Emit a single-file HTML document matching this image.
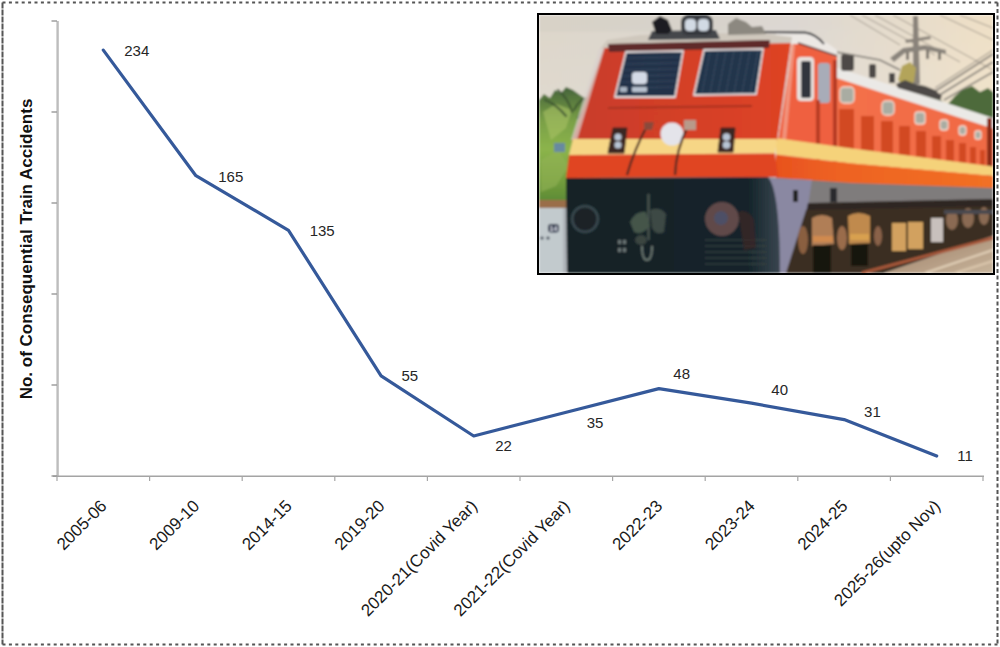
<!DOCTYPE html>
<html><head><meta charset="utf-8">
<style>
html,body{margin:0;padding:0;background:#fff;}
body{width:1000px;height:647px;overflow:hidden;position:relative;}
svg{position:absolute;left:0;top:0;}
text{font-family:"Liberation Sans",sans-serif;fill:#1a1a1a;}
.dl{font-size:15px;fill:#262626;}
.xl{font-size:17px;fill:#1a1a1a;}
.yt{font-size:17px;font-weight:bold;fill:#111;}
</style></head><body>
<svg width="1000" height="647" viewBox="0 0 1000 647">
<rect x="0" y="0" width="1000" height="647" fill="#fff"/>
<line x1="57.6" y1="21" x2="57.6" y2="476" stroke="#bdbdbd" stroke-width="2.4"/>
<line x1="53" y1="476.2" x2="984.0" y2="476.2" stroke="#a4a4a4" stroke-width="1.6"/>
<line x1="51.5" y1="476" x2="57" y2="476" stroke="#999" stroke-width="1.4"/>
<line x1="51.5" y1="385" x2="57" y2="385" stroke="#999" stroke-width="1.4"/>
<line x1="51.5" y1="294" x2="57" y2="294" stroke="#999" stroke-width="1.4"/>
<line x1="51.5" y1="203" x2="57" y2="203" stroke="#999" stroke-width="1.4"/>
<line x1="51.5" y1="112" x2="57" y2="112" stroke="#999" stroke-width="1.4"/>
<line x1="51.5" y1="21" x2="57" y2="21" stroke="#999" stroke-width="1.4"/>
<line x1="57.0" y1="476" x2="57.0" y2="481" stroke="#a6a6a6" stroke-width="1.2"/>
<line x1="149.6" y1="476" x2="149.6" y2="481" stroke="#a6a6a6" stroke-width="1.2"/>
<line x1="242.2" y1="476" x2="242.2" y2="481" stroke="#a6a6a6" stroke-width="1.2"/>
<line x1="334.8" y1="476" x2="334.8" y2="481" stroke="#a6a6a6" stroke-width="1.2"/>
<line x1="427.4" y1="476" x2="427.4" y2="481" stroke="#a6a6a6" stroke-width="1.2"/>
<line x1="520.0" y1="476" x2="520.0" y2="481" stroke="#a6a6a6" stroke-width="1.2"/>
<line x1="612.6" y1="476" x2="612.6" y2="481" stroke="#a6a6a6" stroke-width="1.2"/>
<line x1="705.2" y1="476" x2="705.2" y2="481" stroke="#a6a6a6" stroke-width="1.2"/>
<line x1="797.8" y1="476" x2="797.8" y2="481" stroke="#a6a6a6" stroke-width="1.2"/>
<line x1="890.4" y1="476" x2="890.4" y2="481" stroke="#a6a6a6" stroke-width="1.2"/>
<line x1="983.0" y1="476" x2="983.0" y2="481" stroke="#a6a6a6" stroke-width="1.2"/>
<polyline fill="none" stroke="#35599a" stroke-width="3.2" stroke-linejoin="round" stroke-linecap="round" points="103.3,50.1 195.9,175.7 288.5,230.3 381.1,375.9 473.7,436.0 566.3,412.3 658.9,388.6 751.5,403.2 844.1,419.6 936.7,456.0"/>
<text x="136.8" y="56.0" text-anchor="middle" class="dl">234</text>
<text x="230.8" y="181.8" text-anchor="middle" class="dl">165</text>
<text x="322.2" y="236.3" text-anchor="middle" class="dl">135</text>
<text x="409.8" y="381.2" text-anchor="middle" class="dl">55</text>
<text x="503.6" y="451.0" text-anchor="middle" class="dl">22</text>
<text x="595.0" y="427.6" text-anchor="middle" class="dl">35</text>
<text x="681.7" y="378.9" text-anchor="middle" class="dl">48</text>
<text x="779.7" y="395.3" text-anchor="middle" class="dl">40</text>
<text x="872.4" y="417.2" text-anchor="middle" class="dl">31</text>
<text x="965.0" y="460.8" text-anchor="middle" class="dl">11</text>
<text class="xl" text-anchor="end" transform="translate(107.8,507) rotate(-45)">2005-06</text>
<text class="xl" text-anchor="end" transform="translate(200.4,507) rotate(-45)">2009-10</text>
<text class="xl" text-anchor="end" transform="translate(293.0,507) rotate(-45)">2014-15</text>
<text class="xl" text-anchor="end" transform="translate(385.6,507) rotate(-45)">2019-20</text>
<text class="xl" text-anchor="end" transform="translate(478.2,507) rotate(-45)">2020-21(Covid Year)</text>
<text class="xl" text-anchor="end" transform="translate(570.8,507) rotate(-45)">2021-22(Covid Year)</text>
<text class="xl" text-anchor="end" transform="translate(663.4,507) rotate(-45)">2022-23</text>
<text class="xl" text-anchor="end" transform="translate(756.0,507) rotate(-45)">2023-24</text>
<text class="xl" text-anchor="end" transform="translate(848.6,507) rotate(-45)">2024-25</text>
<text class="xl" text-anchor="end" transform="translate(941.2,507) rotate(-45)">2025-26(upto Nov)</text>
<text class="yt" text-anchor="middle" transform="translate(32,249) rotate(-90)">No. of Consequential Train Accidents</text>
<defs>
<filter id="soft" x="0" y="0" width="1" height="1"><feGaussianBlur stdDeviation="0.85"/></filter>
<clipPath id="pc"><rect x="539" y="15" width="454" height="258"/></clipPath>
<linearGradient id="sky" x1="0" y1="0" x2="1" y2="0">
<stop offset="0" stop-color="#ddd6ca"/><stop offset="0.55" stop-color="#dcd7d2"/><stop offset="0.8" stop-color="#e6dccb"/><stop offset="1" stop-color="#efe0c6"/>
</linearGradient>
<linearGradient id="skyv" x1="0" y1="0" x2="0" y2="1">
<stop offset="0" stop-color="#fff" stop-opacity="0"/><stop offset="1" stop-color="#fff" stop-opacity="0.25"/>
</linearGradient>
<linearGradient id="tree" x1="0" y1="0" x2="0" y2="1">
<stop offset="0" stop-color="#45633a"/><stop offset="0.3" stop-color="#7aa046"/><stop offset="0.55" stop-color="#8cb44c"/><stop offset="0.8" stop-color="#76a03e"/><stop offset="1" stop-color="#5f8c36"/>
</linearGradient>
<linearGradient id="face" x1="0" y1="0" x2="1" y2="0">
<stop offset="0" stop-color="#c83e2a"/><stop offset="0.5" stop-color="#d43f28"/><stop offset="1" stop-color="#de4424"/>
</linearGradient>
<linearGradient id="side" x1="0" y1="0" x2="1" y2="0">
<stop offset="0" stop-color="#f4704a"/><stop offset="1" stop-color="#f06a44"/>
</linearGradient>
<linearGradient id="dark" x1="0" y1="0" x2="1" y2="0">
<stop offset="0" stop-color="#132227"/><stop offset="0.85" stop-color="#14242a"/><stop offset="1" stop-color="#3a4650"/>
</linearGradient>
<linearGradient id="oband" x1="776" y1="0" x2="993" y2="0" gradientUnits="userSpaceOnUse">
<stop offset="0" stop-color="#e8521f"/><stop offset="0.3" stop-color="#ee6322"/><stop offset="1" stop-color="#f27025"/>
</linearGradient>
<linearGradient id="ballast" x1="0" y1="0" x2="1" y2="1">
<stop offset="0" stop-color="#9a7a62"/><stop offset="1" stop-color="#c8b59c"/>
</linearGradient>
<linearGradient id="bogie" x1="0" y1="0" x2="0" y2="1">
<stop offset="0" stop-color="#5e4432"/><stop offset="0.5" stop-color="#86643f"/><stop offset="1" stop-color="#4e3828"/>
</linearGradient>
</defs>
<g clip-path="url(#pc)"><g filter="url(#soft)">
<rect x="539" y="15" width="454" height="258" fill="url(#sky)"/>
<rect x="539" y="15" width="454" height="258" fill="url(#skyv)"/>
<rect x="539" y="15" width="200" height="17" fill="#cecbbf" opacity="0.3"/>
<!-- overhead wires -->
<g stroke="#8e867c" stroke-width="0.9" fill="none" opacity="0.85">
<path d="M862 15 L935 55"/><path d="M875 15 L960 62"/><path d="M893 15 L993 70"/>
<path d="M940 15 L993 40"/><path d="M960 15 L993 28"/><path d="M850 15 L900 45"/>
</g>
<g stroke="#8a847c" fill="none">
<path d="M934 92 L993 54" stroke-width="2"/><path d="M938 96 L993 62" stroke-width="2"/>
<path d="M944 100 L993 72" stroke-width="1.5"/><path d="M935 88 L993 50" stroke-width="1"/>
</g>
<!-- mast & cantilever -->
<path d="M913 16 L918 16 L920 84 L913 84 Z" fill="#8a837a"/>
<path d="M890 58 L903 48 L925 45 L946 50 L946 54 L925 50 L905 53 L894 62 Z" fill="#8a847c"/>
<g fill="#7a746c"><rect x="906" y="52" width="3" height="8"/><rect x="926" y="50" width="3" height="9"/><rect x="938" y="52" width="3" height="8"/></g>
<path d="M905 40 L930 36 L931 39 L906 43 Z" fill="#8a837a"/>
<!-- yellow tree behind mast -->
<path d="M898 80 L902 66 L910 62 L916 68 L914 82 L905 86 Z" fill="#b3a45a"/>
<!-- right trees -->
<path d="M940 118 L948 104 L955 96 L962 90 L972 86 L980 92 L988 88 L993 92 L993 130 Z" fill="#4e6a3a"/>
<path d="M905 95 L920 85 L935 92 L945 105 L925 108 Z" fill="#5a6650" opacity="0.7"/>
<!-- left trees -->
<path d="M539 100 L544 94 L550 98 L555 90 L561 93 L566 87 L573 90 L580 95 L586 99 L592 104 L572 200 L539 200 Z" fill="url(#tree)"/>
<path d="M543 112 L556 104 L572 110 L566 128 L551 140 Z" fill="#a8c266" opacity="0.6"/>
<path d="M541 160 L558 150 L569 166 L556 186 L541 192 Z" fill="#93b356" opacity="0.6"/>
<g stroke="#3a5230" stroke-width="2.2" fill="none" stroke-linecap="round" opacity="0.85">
<path d="M572 112 Q568 98 558 90"/><path d="M574 110 Q580 98 588 98"/><path d="M566 116 Q556 104 545 100"/><path d="M578 118 Q584 108 592 106"/>
</g>
<rect x="554" y="143" width="11" height="9" fill="#5f7fb5" opacity="0.8"/>
<!-- gray box bottom-left -->
<rect x="539" y="200" width="30" height="8" fill="#9a6e4a"/>
<rect x="539" y="208" width="30" height="65" fill="#c2cacd"/>
<rect x="563" y="208" width="6" height="65" fill="#aeb3b8"/>
<rect x="548" y="224" width="11" height="8.5" rx="3" fill="#26304a"/>
<text x="553.5" y="231" text-anchor="middle" style="font-size:7px;font-weight:bold;fill:#e8eaf0">14</text>
<circle cx="542" cy="238" r="1.6" fill="#3a4250"/><circle cx="548" cy="238" r="1.6" fill="#3a4250"/>
<!-- body side roof white strip -->
<path d="M835 67 L993 118 L993 129 L835 78 Z" fill="#ebe9e6"/>
<!-- roof equipment -->
<g fill="#4e4a46">
<rect x="841" y="54" width="13" height="17" rx="3"/>
<rect x="869" y="64" width="7" height="14" rx="2"/>
<rect x="889" y="73" width="6" height="10"/>
<path d="M896 84 L905 80 L915 84 L925 86 L935 90 L942 96 L940 100 L898 88 Z"/>
</g>
<path d="M836 52 L880 60 L900 70" stroke="#7a7670" stroke-width="1.5" fill="none"/>
<!-- body side orange -->
<path d="M835 77.5 L993 128.5 L993 192 L835 186 Z" fill="url(#side)"/>
<!-- louvres -->
<g fill="#d24a24">
<rect x="839" y="109" width="15" height="40"/>
<rect x="861" y="116" width="13" height="37"/>
<rect x="881" y="121" width="12" height="35"/>
<rect x="899" y="126" width="11" height="32"/>
<rect x="916" y="131" width="10" height="30"/>
<rect x="932" y="136" width="9" height="28"/>
<rect x="946" y="140" width="8" height="26"/>
<rect x="959" y="143" width="7" height="25"/>
<rect x="970" y="147" width="6" height="23"/>
<rect x="980" y="150" width="5" height="21"/>
</g>
<!-- portholes -->
<g fill="#a9aca2" stroke="#f6ddd0" stroke-width="1.3">
<rect x="840" y="87" width="14" height="16" rx="4"/>
<rect x="882" y="101" width="12" height="14" rx="4"/>
<rect x="915" y="112" width="10" height="12" rx="3"/>
<rect x="940" y="120" width="8" height="10" rx="3"/>
<rect x="959" y="126" width="7" height="9" rx="3"/>
<rect x="975" y="131" width="6" height="8" rx="2"/>
</g>
<!-- cab side -->
<path d="M778 141 L793 43 L800 43 L837 56 L837 155 Z" fill="#ef6040"/>
<path d="M776 33 L806 33 Q822 38 837 50 L837 57 L800 44 L776 44 Z" fill="#ece8e4"/>
<path d="M798 43 L837 56" stroke="#5a2a26" stroke-width="1.5"/>
<path d="M760 32 L805 32.5 Q816 34 824 44" stroke="#2a2c30" stroke-width="2" fill="none"/>
<path d="M782 140 L791 45 L795 45 L786 141 Z" fill="#f3a08a" opacity="0.8"/>
<rect x="797" y="57" width="17" height="44" rx="4" fill="#e8e2de"/>
<rect x="801" y="61" width="10" height="37" rx="2" fill="#30343c"/>
<rect x="818" y="63" width="12" height="40" rx="3" fill="#a8acb8"/>
<rect x="816" y="100" width="4" height="85" fill="#b83a22"/>
<rect x="833" y="60" width="4" height="125" fill="#b43820"/>
<!-- right end pole -->
<rect x="987" y="118" width="5" height="95" fill="#8a2a18"/>
<!-- side yellow stripe -->
<path d="M776 138 L852 148.4 L900 154.6 L993 166.5 L993 176 L900 167.8 L852 163.5 L776 154.4 Z" fill="#f5d27a"/>
<!-- side orange band -->
<path d="M776 154.4 L852 163.5 L900 167.8 L993 176 L993 188.5 L900 184.5 L852 184 L776 181 Z" fill="url(#oband)"/>
<!-- gray skirt -->
<path d="M765 177 L852 183 L993 188 L993 201 L808 205 L786 273 L768 273 L768 200 Z" fill="#7f7b7c"/>
<path d="M768 178 L812 180 L808 206 L786 273 L768 273 Z" fill="#8a88a2"/>
<rect x="793" y="190" width="5" height="12" fill="#222"/>
<rect x="830" y="188" width="7" height="14" fill="#2a2a2e"/>
<!-- underframe -->
<path d="M808 203 L993 199 L993 212 L806 212 Z" fill="#2e2520"/>
<!-- bogies -->
<path d="M806 210 L993 206 L993 236 L884 273 L786 273 Z" fill="#3a2e24"/>
<g fill="#b07e56">
<path d="M812 218 Q822 212 832 218 L834 244 L812 246 Z"/>
<path d="M848 216 Q858 210 870 216 L870 243 L849 244 Z" fill="#c08a4e"/>
<ellipse cx="803" cy="240" rx="5" ry="14" fill="#8a5e40"/>
<ellipse cx="842" cy="238" rx="5" ry="12" fill="#9a6c4c"/>
<ellipse cx="878" cy="236" rx="4" ry="10" fill="#8a6248"/>
</g>
<rect x="813" y="236" width="20" height="6" fill="#d08a50"/>
<rect x="850" y="234" width="19" height="6" fill="#d8a050"/>
<g fill="#17120e">
<rect x="813" y="245" width="18" height="28"/>
<rect x="851" y="244" width="17" height="22"/>
</g>
<g fill="#d2a15e">
<rect x="892" y="223" width="14" height="28"/>
<rect x="908" y="222" width="15" height="27"/>
</g>
<rect x="931" y="218" width="12" height="24" fill="#c8c0bc"/>
<g fill="#8a6a52">
<ellipse cx="952" cy="220" rx="6" ry="10"/>
<ellipse cx="968" cy="218" rx="6" ry="10"/>
<ellipse cx="984" cy="216" rx="5" ry="9"/>
</g>
<rect x="944" y="210" width="49" height="4" fill="#4a4a50"/>
<!-- ballast/track right -->
<path d="M884 273 L993 236 L993 273 Z" fill="url(#ballast)"/>
<path d="M862 273 L993 238" stroke="#a8583a" stroke-width="3"/>
<path d="M925 273 L993 250" stroke="#e2d0b8" stroke-width="2"/>
<path d="M955 273 L993 261" stroke="#dcc8ae" stroke-width="2"/>
<!-- front face red -->
<path d="M604 47 L791 42 L777 141 L572 141 Z" fill="url(#face)"/>
<!-- left rim of face -->
<path d="M599 49 L605 47 L577 140 L571 140 Z" fill="#d8d0cc" opacity="0.75"/>
<!-- roof over front -->
<path d="M600 49 L607 40 L640 35 L700 33 L760 33 L792 37 L791 43 L604 48 Z" fill="#cfc8bd"/>
<path d="M608 44 L770 40 L769 48 L609 52 Z" fill="#5e2a2a"/>
<!-- horn, headlight -->
<path d="M652 31 L716 30 L720 39 L648 40 Z" fill="#44464c"/>
<path d="M652 22 L660 16 L668 20 L672 30 L668 34 L656 34 Z" fill="#1e1e20"/>
<rect x="681" y="15" width="32" height="20" rx="7" fill="#36383c"/>
<rect x="685" y="19" width="11" height="12" rx="4" fill="#d2dae4"/>
<rect x="698" y="19" width="11" height="12" rx="4" fill="#d2dae4"/>
<path d="M728 24 L736 18 L746 22 L752 27 L762 26 L766 34 L728 35 Z" fill="#8c8880"/>
<!-- windows -->
<path d="M626 52 L683 51 L675 97 L615 97 Z" fill="#22314a" stroke="#e2dcdc" stroke-width="1.8" stroke-linejoin="round"/>
<path d="M704 50 L763 49 L756 94 L694 95 Z" fill="#24354c" stroke="#e2dcdc" stroke-width="1.8" stroke-linejoin="round"/>
<g stroke="#4a5a70" stroke-width="0.8" opacity="0.7">
<path d="M625 58 L681 57"/><path d="M624 64 L680 63"/><path d="M622 70 L679 69"/><path d="M621 76 L678 75"/><path d="M619 82 L677 81"/><path d="M618 88 L676 87"/>
<path d="M710 52 L702 93"/><path d="M718 52 L710 93"/><path d="M726 52 L718 93"/><path d="M734 51 L726 93"/><path d="M742 51 L734 93"/><path d="M750 51 L742 93"/><path d="M758 51 L750 93"/>
</g>
<rect x="632" y="72" width="15" height="12" rx="3" fill="#d4dae6"/>
<rect x="632" y="87" width="15" height="5" rx="1" fill="#b8c2d0"/>
<rect x="620" y="87" width="7" height="5" rx="1" fill="#a8b4c2"/>
<path d="M608 108 L752 106" stroke="#a83020" stroke-width="1.8"/>
<!-- front yellow stripe -->
<path d="M573 139 L777 139 L775 153.5 L569 155 Z" fill="#f6d686"/>
<!-- white disk -->
<circle cx="672" cy="134" r="11.5" fill="#e4e4ea"/>
<!-- lamps -->
<path d="M613 128 L627 128 L624 153 L608 153 Z" fill="#3a2522" stroke="#3a2522" stroke-width="1" stroke-linejoin="round"/>
<circle cx="618" cy="137" r="3.6" fill="#b8c4d4"/>
<circle cx="618" cy="145" r="3.6" fill="#b8c4d4"/>
<path d="M721 128 L735 128 L733 152 L718 152 Z" fill="#3a2522" stroke="#3a2522" stroke-width="1" stroke-linejoin="round"/>
<circle cx="726.5" cy="137" r="3.8" fill="#b8c4d4"/>
<circle cx="726.5" cy="145" r="3.8" fill="#b8c4d4"/>
<!-- front red band -->
<path d="M569 155 L775 153.5 L778 177 L566 178 Z" fill="#e04420"/>
<!-- hoses -->
<path d="M648 124 Q634 150 627 175" stroke="#4a2a22" stroke-width="2.2" fill="none"/>
<path d="M688 126 Q676 150 675 175" stroke="#4a2a22" stroke-width="2.2" fill="none"/>
<path d="M644 122 L654 122 L652 130 L644 130 Z" fill="#8a4a3a"/>
<path d="M684 120 L696 120 L696 130 L684 130 Z" fill="#b89a8a"/>
<!-- dark front bottom -->
<path d="M566 178 L768 177 Q780 190 780 273 L567 273 Z" fill="url(#dark)"/>
<circle cx="585" cy="219" r="14" fill="#3a4a50"/>
<circle cx="585" cy="219" r="11.5" fill="#1a2228"/>
<circle cx="722" cy="219" r="17" fill="#604a48"/>
<circle cx="721" cy="218" r="7" fill="#3e5680" opacity="0.55"/>
<g stroke="#34403f" stroke-width="1.5">
<path d="M705 240 L766 240"/><path d="M705 246 L766 246"/><path d="M705 252 L766 252"/><path d="M705 258 L766 258"/><path d="M705 264 L766 264"/>
</g>
<rect x="647.5" y="194" width="2" height="46" fill="#4e5852"/>
<path d="M630 222 Q636 210 646 212 L650 226 Q642 236 634 232 Z" fill="#44544a"/>
<path d="M650 210 Q660 206 666 214 L664 232 Q656 236 652 228 Z" fill="#3e4a44"/>
<ellipse cx="641" cy="240" rx="6" ry="5" fill="#3a4440"/>
<path d="M642 246 Q642 260 647 260 Q652 260 652 246" stroke="#6a7670" stroke-width="2" fill="none"/>
<g fill="#6a7474"><rect x="618" y="240" width="3" height="4"/><rect x="623" y="240" width="3" height="4"/><rect x="618" y="248" width="3" height="4"/><rect x="623" y="248" width="3" height="4"/></g>
<path d="M738 212 Q748 208 754 220 L756 248 L744 250 Z" fill="#3a2628" opacity="0.8"/>
</g></g>
<rect x="538" y="14" width="456" height="260" fill="none" stroke="#000" stroke-width="2"/>

<!-- dotted border -->
<line x1="2.5" y1="2.5" x2="997.5" y2="2.5" stroke="#555" stroke-width="2" stroke-dasharray="3 3.4"/>
<line x1="2.5" y1="644.5" x2="997.5" y2="644.5" stroke="#555" stroke-width="2" stroke-dasharray="3 3.4"/>
<line x1="2.5" y1="2.5" x2="2.5" y2="644.5" stroke="#555" stroke-width="2" stroke-dasharray="6 1"/>
<line x1="997.5" y1="2.5" x2="997.5" y2="644.5" stroke="#555" stroke-width="2" stroke-dasharray="4 2.5"/>
</svg>
</body></html>
